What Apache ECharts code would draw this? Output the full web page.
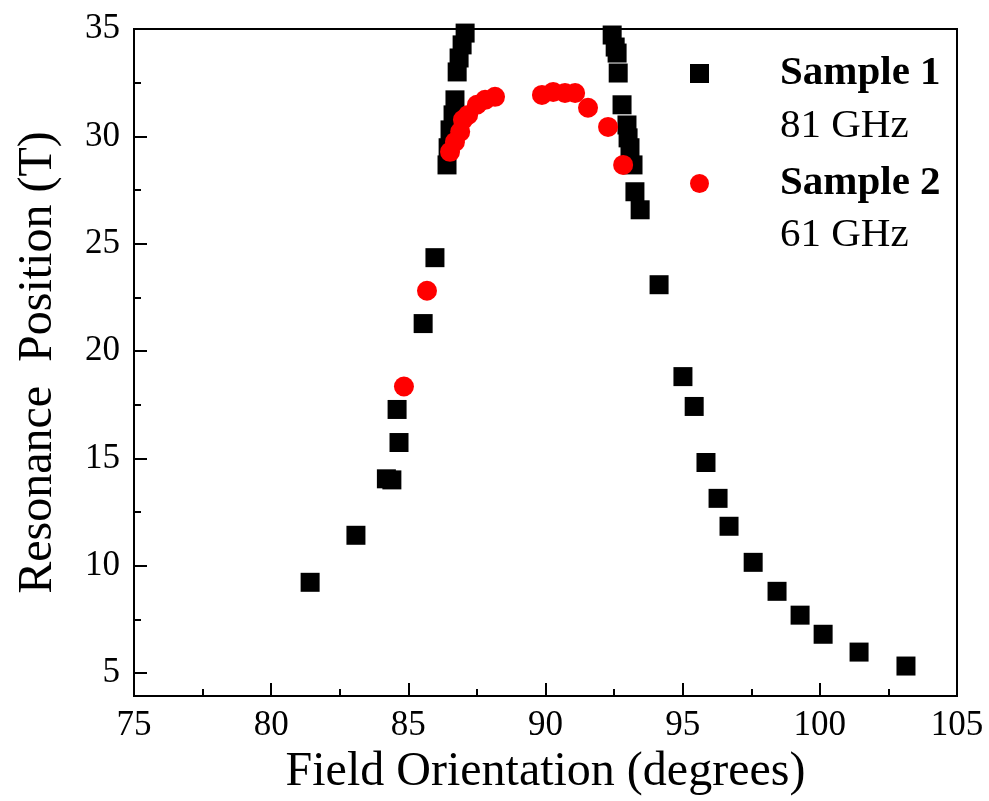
<!DOCTYPE html>
<html>
<head>
<meta charset="utf-8">
<script src="https://cdn.jsdelivr.net/npm/echarts@6/dist/echarts.min.js"></script>
<style>html,body{margin:0;padding:0;background:#fff}#c{width:989px;height:801px}</style>
</head>
<body>
<div id="c"></div>
<script>
// Sample 1 (81 GHz)
var s1x = [81.42, 83.09, 84.2, 84.4, 84.66, 84.59, 85.54, 85.97, 86.41, 86.45, 86.52, 86.63, 86.70, 86.78, 86.85, 86.96, 87.07,
           92.43, 92.54, 92.61, 92.65, 92.79, 92.97, 93.01, 93.08, 93.19, 93.26, 93.45, 94.14, 95.01, 95.42, 95.85, 96.29, 96.69, 97.57, 98.44, 99.28, 100.12, 101.43, 103.14];
var s1y = [9.23, 11.42, 14.05, 14.0, 15.74, 17.28, 21.28, 24.35, 28.67, 29.47, 30.3, 31.0, 31.70, 33.0, 33.65, 34.26, 34.81,
           34.72, 34.16, 33.88, 32.95, 31.47, 30.53, 29.93, 29.47, 28.67, 27.42, 26.58, 23.09, 18.81, 17.42, 14.81, 13.14, 11.84, 10.16, 8.81, 7.70, 6.81, 5.98, 5.33];
// Sample 2 (61 GHz)
var s2x = [84.84, 85.68, 86.52, 86.70, 86.89, 86.99, 87.18, 87.5, 87.8, 88.16, 89.87, 90.28, 90.71, 91.08, 91.55, 92.28, 92.83];
var s2y = [18.35, 22.81, 29.28, 29.74, 30.21, 30.77, 31.0, 31.47, 31.7, 31.84, 31.93, 32.07, 32.02, 32.02, 31.33, 30.44, 28.67];
// Axis ticks
var yMajor = [5, 10, 15, 20, 25, 30, 35];
var yMinor = [7.5, 12.5, 17.5, 22.5, 27.5, 32.5];
var seriesNames = ['Sample 1', 'Sample 2'];
var seriesFreq = ['81 GHz', '61 GHz'];

function zip(a, b) { return a.map(function (v, i) { return [v, b[i]]; }); }

var FONT = '"Liberation Serif", "Times New Roman", serif';
var chart = echarts.init(document.getElementById('c'), null, { renderer: 'canvas' });
chart.setOption({
  animation: false,
  backgroundColor: '#fff',
  grid: { left: 134, right: 32, top: 29, bottom: 104, show: true, borderColor: '#000', borderWidth: 2, backgroundColor: 'transparent' },
  xAxis: {
    type: 'value', min: 75, max: 105, interval: 5,
    name: 'Field Orientation (degrees)', nameLocation: 'middle', nameGap: 40,
    nameTextStyle: { fontFamily: FONT, fontSize: 48, color: '#000' },
    axisLine: { lineStyle: { color: '#000', width: 2 } },
    axisTick: { inside: true, length: 13, lineStyle: { color: '#000', width: 2 } },
    minorTick: { show: true, splitNumber: 2, length: 7, lineStyle: { color: '#000', width: 2 } },
    axisLabel: { fontFamily: FONT, fontSize: 35, color: '#000', margin: 12 },
    splitLine: { show: false }, minorSplitLine: { show: false }
  },
  yAxis: [{
    type: 'value', min: 3.93, max: 35,
    name: 'Resonance  Position (T)', nameLocation: 'middle', nameGap: 72,
    nameTextStyle: { fontFamily: FONT, fontSize: 48, color: '#000' },
    axisLine: { lineStyle: { color: '#000', width: 2 } },
    axisTick: { inside: true, length: 13, customValues: yMajor, lineStyle: { color: '#000', width: 2 } },
    axisLabel: { fontFamily: FONT, fontSize: 35, color: '#000', margin: 14, customValues: yMajor },
    splitLine: { show: false }
  }, {
    type: 'value', min: 3.93, max: 35, position: 'left',
    axisLine: { show: false },
    axisTick: { inside: true, length: 7, customValues: yMinor, lineStyle: { color: '#000', width: 2 } },
    axisLabel: { show: false, customValues: yMinor },
    splitLine: { show: false }
  }],
  legend: {
    orient: 'vertical', left: 690, top: 46, padding: 0,
    itemWidth: 19, itemHeight: 19, itemGap: 55,
    data: [{ name: seriesNames[0], icon: 'rect' }, { name: seriesNames[1], icon: 'circle' }],
    formatter: function (n) { return '{g|}{b|' + n + '}'; },
    textStyle: {
      color: '#000', lineHeight: 55,
      rich: {
        g: { width: 66 },
        b: { fontFamily: FONT, fontSize: 41, fontWeight: 'bold', color: '#000', lineHeight: 55 }
      }
    }
  },
  graphic: [
    { type: 'text', left: 780, top: 106, style: { text: seriesFreq[0], font: '41px ' + FONT, fill: '#000' } },
    { type: 'text', left: 780, top: 215, style: { text: seriesFreq[1], font: '41px ' + FONT, fill: '#000' } }
  ],
  series: [{
    name: seriesNames[0], type: 'scatter', symbol: 'rect', symbolSize: 19,
    itemStyle: { color: '#000', opacity: 1 }, data: zip(s1x, s1y), z: 2
  }, {
    name: seriesNames[1], type: 'scatter', symbol: 'circle', symbolSize: 20,
    itemStyle: { color: '#ff0000', opacity: 1 }, data: zip(s2x, s2y), z: 3
  }]
});
</script>
</body>
</html>
